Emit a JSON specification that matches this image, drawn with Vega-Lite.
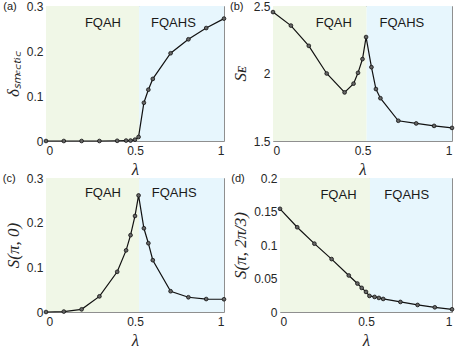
{
  "$schema": "https://vega.github.io/schema/vega-lite/v6.json",
  "padding": {"left": 2, "top": -1, "right": 0, "bottom": 0},
  "background": "white",
  "datasets": {
    "regions": [
      {"x0": 0, "x1": 0.523, "region": "FQAH"},
      {"x0": 0.523, "x1": 1, "region": "FQAHS"}
    ],
    "obs": [
      {"panel": "a", "lambda": 0, "value": 0},
      {"panel": "a", "lambda": 0.1, "value": 0},
      {"panel": "a", "lambda": 0.2, "value": 0},
      {"panel": "a", "lambda": 0.3, "value": 0},
      {"panel": "a", "lambda": 0.4, "value": 0.0005},
      {"panel": "a", "lambda": 0.45, "value": 0.001},
      {"panel": "a", "lambda": 0.475, "value": 0.001},
      {"panel": "a", "lambda": 0.5, "value": 0.003},
      {"panel": "a", "lambda": 0.52, "value": 0.009},
      {"panel": "a", "lambda": 0.55, "value": 0.085},
      {"panel": "a", "lambda": 0.575, "value": 0.114},
      {"panel": "a", "lambda": 0.6, "value": 0.138},
      {"panel": "a", "lambda": 0.7, "value": 0.195},
      {"panel": "a", "lambda": 0.8, "value": 0.226},
      {"panel": "a", "lambda": 0.9, "value": 0.251},
      {"panel": "a", "lambda": 1.0, "value": 0.272},
      {"panel": "b", "lambda": 0, "value": 2.455},
      {"panel": "b", "lambda": 0.1, "value": 2.355},
      {"panel": "b", "lambda": 0.2, "value": 2.205},
      {"panel": "b", "lambda": 0.3, "value": 2.0},
      {"panel": "b", "lambda": 0.4, "value": 1.86},
      {"panel": "b", "lambda": 0.45, "value": 1.925},
      {"panel": "b", "lambda": 0.475, "value": 2.005},
      {"panel": "b", "lambda": 0.5, "value": 2.107},
      {"panel": "b", "lambda": 0.52, "value": 2.27},
      {"panel": "b", "lambda": 0.55, "value": 2.047},
      {"panel": "b", "lambda": 0.575, "value": 1.885},
      {"panel": "b", "lambda": 0.6, "value": 1.817},
      {"panel": "b", "lambda": 0.7, "value": 1.65},
      {"panel": "b", "lambda": 0.8, "value": 1.63},
      {"panel": "b", "lambda": 0.9, "value": 1.612},
      {"panel": "b", "lambda": 1.0, "value": 1.597},
      {"panel": "c", "lambda": 0, "value": 0},
      {"panel": "c", "lambda": 0.1, "value": 0.001},
      {"panel": "c", "lambda": 0.2, "value": 0.006},
      {"panel": "c", "lambda": 0.3, "value": 0.035},
      {"panel": "c", "lambda": 0.4, "value": 0.09},
      {"panel": "c", "lambda": 0.45, "value": 0.138},
      {"panel": "c", "lambda": 0.475, "value": 0.172},
      {"panel": "c", "lambda": 0.5, "value": 0.215},
      {"panel": "c", "lambda": 0.52, "value": 0.261},
      {"panel": "c", "lambda": 0.55, "value": 0.1875},
      {"panel": "c", "lambda": 0.575, "value": 0.154},
      {"panel": "c", "lambda": 0.6, "value": 0.116},
      {"panel": "c", "lambda": 0.7, "value": 0.0465},
      {"panel": "c", "lambda": 0.8, "value": 0.033},
      {"panel": "c", "lambda": 0.9, "value": 0.029},
      {"panel": "c", "lambda": 1.0, "value": 0.0285},
      {"panel": "d", "lambda": 0, "value": 0.154},
      {"panel": "d", "lambda": 0.1, "value": 0.1265},
      {"panel": "d", "lambda": 0.2, "value": 0.102},
      {"panel": "d", "lambda": 0.3, "value": 0.079},
      {"panel": "d", "lambda": 0.4, "value": 0.0545},
      {"panel": "d", "lambda": 0.45, "value": 0.0425},
      {"panel": "d", "lambda": 0.475, "value": 0.036},
      {"panel": "d", "lambda": 0.5, "value": 0.03},
      {"panel": "d", "lambda": 0.52, "value": 0.024},
      {"panel": "d", "lambda": 0.55, "value": 0.0225},
      {"panel": "d", "lambda": 0.575, "value": 0.021},
      {"panel": "d", "lambda": 0.6, "value": 0.0195},
      {"panel": "d", "lambda": 0.7, "value": 0.015},
      {"panel": "d", "lambda": 0.8, "value": 0.0105},
      {"panel": "d", "lambda": 0.9, "value": 0.007},
      {"panel": "d", "lambda": 1.0, "value": 0.004}
    ],
    "labels": [
      {"panel": "a", "tag": "(a)", "left": "FQAH", "right": "FQAHS"},
      {"panel": "b", "tag": "(b)", "left": "FQAH", "right": "FQAHS"},
      {"panel": "c", "tag": "(c)", "left": "FQAH", "right": "FQAHS"},
      {"panel": "d", "tag": "(d)", "left": "FQAH", "right": "FQAHS"}
    ]
  },
  "spacing": -7,
  "vconcat": [
    {
      "bounds": "flush",
      "spacing": 49,
      "hconcat": [
        {
          "width": 178,
          "height": 135,
          "layer": [
            {"data": {"name": "regions"}, "mark": {"type": "rect"},
             "encoding": {
               "x": {"field": "x0", "type": "quantitative", "scale": {"domain": [0, 1], "nice": false}, "axis": {"values": [0, 0.5, 1], "format": "~g", "title": "λ"}},
               "x2": {"field": "x1"},
               "color": {"field": "region", "type": "nominal", "scale": {"domain": ["FQAH", "FQAHS"], "range": ["#f0f7e7", "#e7f6fd"]}, "legend": null}
             }},
            {"mark": {"type": "rule", "color": "#8c8c8c", "strokeWidth": 1}, "encoding": {"x": {"datum": 0.523}}},
            {"data": {"name": "obs"}, "transform": [{"filter": "datum.panel === 'a'"}],
             "mark": {"type": "line", "color": "#111111", "strokeWidth": 1.2},
             "encoding": {
               "x": {"field": "lambda", "type": "quantitative"},
               "y": {"field": "value", "type": "quantitative", "scale": {"domain": [0, 0.3], "nice": false}, "axis": {"values": [0, 0.1, 0.2, 0.3], "tickCount": 10, "format": "~g", "title": "δₛₘₑ꜀ₜᵢ꜀"}}
             }},
            {"data": {"name": "obs"}, "transform": [{"filter": "datum.panel === 'a'"}],
             "mark": {"type": "point", "filled": true, "fill": "#666666", "stroke": "#111111", "strokeWidth": 0.8, "size": 14, "opacity": 1},
             "encoding": {"x": {"field": "lambda", "type": "quantitative"}, "y": {"field": "value", "type": "quantitative"}}},
            {"data": {"name": "labels"}, "transform": [{"filter": "datum.panel === 'a'"}], "mark": {"type": "text", "fontSize": 13, "fill": "#1a1a1a", "baseline": "middle"}, "encoding": {"x": {"datum": 0.32}, "y": {"datum": 0.262}, "text": {"field": "left"}}},
            {"data": {"name": "labels"}, "transform": [{"filter": "datum.panel === 'a'"}], "mark": {"type": "text", "fontSize": 13, "fill": "#1a1a1a", "baseline": "middle"}, "encoding": {"x": {"datum": 0.716}, "y": {"datum": 0.262}, "text": {"field": "right"}}},
            {"data": {"name": "labels"}, "transform": [{"filter": "datum.panel === 'a'"}], "mark": {"type": "text", "fontSize": 11, "fill": "#1a1a1a", "align": "left", "baseline": "middle", "dy": 1}, "encoding": {"x": {"datum": -0.24}, "y": {"datum": 0.3}, "text": {"field": "tag"}}}
          ]
        },
        {
          "width": 179,
          "height": 135,
          "layer": [
            {"data": {"name": "regions"}, "mark": {"type": "rect"},
             "encoding": {
               "x": {"field": "x0", "type": "quantitative", "scale": {"domain": [0, 1], "nice": false}, "axis": {"values": [0, 0.5, 1], "format": "~g", "title": "λ"}},
               "x2": {"field": "x1"},
               "color": {"field": "region", "type": "nominal", "scale": {"domain": ["FQAH", "FQAHS"], "range": ["#f0f7e7", "#e7f6fd"]}, "legend": null}
             }},
            {"mark": {"type": "rule", "color": "#8c8c8c", "strokeWidth": 1}, "encoding": {"x": {"datum": 0.523}}},
            {"data": {"name": "obs"}, "transform": [{"filter": "datum.panel === 'b'"}],
             "mark": {"type": "line", "color": "#111111", "strokeWidth": 1.2},
             "encoding": {
               "x": {"field": "lambda", "type": "quantitative"},
               "y": {"field": "value", "type": "quantitative", "scale": {"domain": [1.5, 2.5], "nice": false, "zero": false}, "axis": {"values": [1.5, 2, 2.5], "tickCount": 10, "format": "~g", "title": "Sᴇ"}}
             }},
            {"data": {"name": "obs"}, "transform": [{"filter": "datum.panel === 'b'"}],
             "mark": {"type": "point", "filled": true, "fill": "#666666", "stroke": "#111111", "strokeWidth": 0.8, "size": 14, "opacity": 1},
             "encoding": {"x": {"field": "lambda", "type": "quantitative"}, "y": {"field": "value", "type": "quantitative"}}},
            {"data": {"name": "labels"}, "transform": [{"filter": "datum.panel === 'b'"}], "mark": {"type": "text", "fontSize": 13, "fill": "#1a1a1a", "baseline": "middle"}, "encoding": {"x": {"datum": 0.34}, "y": {"datum": 2.374}, "text": {"field": "left"}}},
            {"data": {"name": "labels"}, "transform": [{"filter": "datum.panel === 'b'"}], "mark": {"type": "text", "fontSize": 13, "fill": "#1a1a1a", "baseline": "middle"}, "encoding": {"x": {"datum": 0.72}, "y": {"datum": 2.374}, "text": {"field": "right"}}},
            {"data": {"name": "labels"}, "transform": [{"filter": "datum.panel === 'b'"}], "mark": {"type": "text", "fontSize": 11, "fill": "#1a1a1a", "align": "left", "baseline": "middle", "dy": 1}, "encoding": {"x": {"datum": -0.24}, "y": {"datum": 2.5}, "text": {"field": "tag"}}}
          ]
        }
      ]
    },
    {
      "bounds": "flush",
      "spacing": 56,
      "hconcat": [
        {
          "width": 178,
          "height": 134,
          "layer": [
            {"data": {"name": "regions"}, "mark": {"type": "rect"},
             "encoding": {
               "x": {"field": "x0", "type": "quantitative", "scale": {"domain": [0, 1], "nice": false}, "axis": {"values": [0, 0.5, 1], "format": "~g", "title": "λ"}},
               "x2": {"field": "x1"},
               "color": {"field": "region", "type": "nominal", "scale": {"domain": ["FQAH", "FQAHS"], "range": ["#f0f7e7", "#e7f6fd"]}, "legend": null}
             }},
            {"mark": {"type": "rule", "color": "#8c8c8c", "strokeWidth": 1}, "encoding": {"x": {"datum": 0.523}}},
            {"data": {"name": "obs"}, "transform": [{"filter": "datum.panel === 'c'"}],
             "mark": {"type": "line", "color": "#111111", "strokeWidth": 1.2},
             "encoding": {
               "x": {"field": "lambda", "type": "quantitative"},
               "y": {"field": "value", "type": "quantitative", "scale": {"domain": [0, 0.3], "nice": false}, "axis": {"values": [0, 0.1, 0.2, 0.3], "tickCount": 10, "format": "~g", "title": "S(π, 0)"}}
             }},
            {"data": {"name": "obs"}, "transform": [{"filter": "datum.panel === 'c'"}],
             "mark": {"type": "point", "filled": true, "fill": "#666666", "stroke": "#111111", "strokeWidth": 0.8, "size": 14, "opacity": 1},
             "encoding": {"x": {"field": "lambda", "type": "quantitative"}, "y": {"field": "value", "type": "quantitative"}}},
            {"data": {"name": "labels"}, "transform": [{"filter": "datum.panel === 'c'"}], "mark": {"type": "text", "fontSize": 13, "fill": "#1a1a1a", "baseline": "middle"}, "encoding": {"x": {"datum": 0.32}, "y": {"datum": 0.266}, "text": {"field": "left"}}},
            {"data": {"name": "labels"}, "transform": [{"filter": "datum.panel === 'c'"}], "mark": {"type": "text", "fontSize": 13, "fill": "#1a1a1a", "baseline": "middle"}, "encoding": {"x": {"datum": 0.72}, "y": {"datum": 0.266}, "text": {"field": "right"}}},
            {"data": {"name": "labels"}, "transform": [{"filter": "datum.panel === 'c'"}], "mark": {"type": "text", "fontSize": 11, "fill": "#1a1a1a", "align": "left", "baseline": "middle", "dy": 1}, "encoding": {"x": {"datum": -0.243}, "y": {"datum": 0.3}, "text": {"field": "tag"}}}
          ]
        },
        {
          "width": 172,
          "height": 134,
          "layer": [
            {"data": {"name": "regions"}, "mark": {"type": "rect"},
             "encoding": {
               "x": {"field": "x0", "type": "quantitative", "scale": {"domain": [0, 1], "nice": false}, "axis": {"values": [0, 0.5, 1], "format": "~g", "title": "λ"}},
               "x2": {"field": "x1"},
               "color": {"field": "region", "type": "nominal", "scale": {"domain": ["FQAH", "FQAHS"], "range": ["#f0f7e7", "#e7f6fd"]}, "legend": null}
             }},
            {"mark": {"type": "rule", "color": "#8c8c8c", "strokeWidth": 1}, "encoding": {"x": {"datum": 0.523}}},
            {"data": {"name": "obs"}, "transform": [{"filter": "datum.panel === 'd'"}],
             "mark": {"type": "line", "color": "#111111", "strokeWidth": 1.2},
             "encoding": {
               "x": {"field": "lambda", "type": "quantitative"},
               "y": {"field": "value", "type": "quantitative", "scale": {"domain": [0, 0.2], "nice": false}, "axis": {"values": [0, 0.05, 0.1, 0.15, 0.2], "tickCount": 10, "format": "~g", "title": "S(π, 2π/3)"}}
             }},
            {"data": {"name": "obs"}, "transform": [{"filter": "datum.panel === 'd'"}],
             "mark": {"type": "point", "filled": true, "fill": "#666666", "stroke": "#111111", "strokeWidth": 0.8, "size": 14, "opacity": 1},
             "encoding": {"x": {"field": "lambda", "type": "quantitative"}, "y": {"field": "value", "type": "quantitative"}}},
            {"data": {"name": "labels"}, "transform": [{"filter": "datum.panel === 'd'"}], "mark": {"type": "text", "fontSize": 13, "fill": "#1a1a1a", "baseline": "middle"}, "encoding": {"x": {"datum": 0.34}, "y": {"datum": 0.175}, "text": {"field": "left"}}},
            {"data": {"name": "labels"}, "transform": [{"filter": "datum.panel === 'd'"}], "mark": {"type": "text", "fontSize": 13, "fill": "#1a1a1a", "baseline": "middle"}, "encoding": {"x": {"datum": 0.737}, "y": {"datum": 0.175}, "text": {"field": "right"}}},
            {"data": {"name": "labels"}, "transform": [{"filter": "datum.panel === 'd'"}], "mark": {"type": "text", "fontSize": 11, "fill": "#1a1a1a", "align": "left", "baseline": "middle", "dy": 1}, "encoding": {"x": {"datum": -0.283}, "y": {"datum": 0.2}, "text": {"field": "tag"}}}
          ]
        }
      ]
    }
  ],
  "config": {
    "view": {"stroke": "#8f8f8f", "strokeWidth": 1},
    "axis": {"grid": false, "ticks": false, "domain": false, "labelOverlap": false, "labelFont": "Liberation Sans", "labelFontSize": 12, "labelColor": "#262626", "titleFont": "Liberation Serif", "titleFontStyle": "italic", "titleFontWeight": "normal", "titleFontSize": 17, "titleColor": "#262626"},
    "axisX": {"labelPadding": 4, "titlePadding": 5},
    "axisY": {"labelPadding": 3, "titlePadding": 4},
    "text": {"font": "Liberation Sans"}
  }
}
